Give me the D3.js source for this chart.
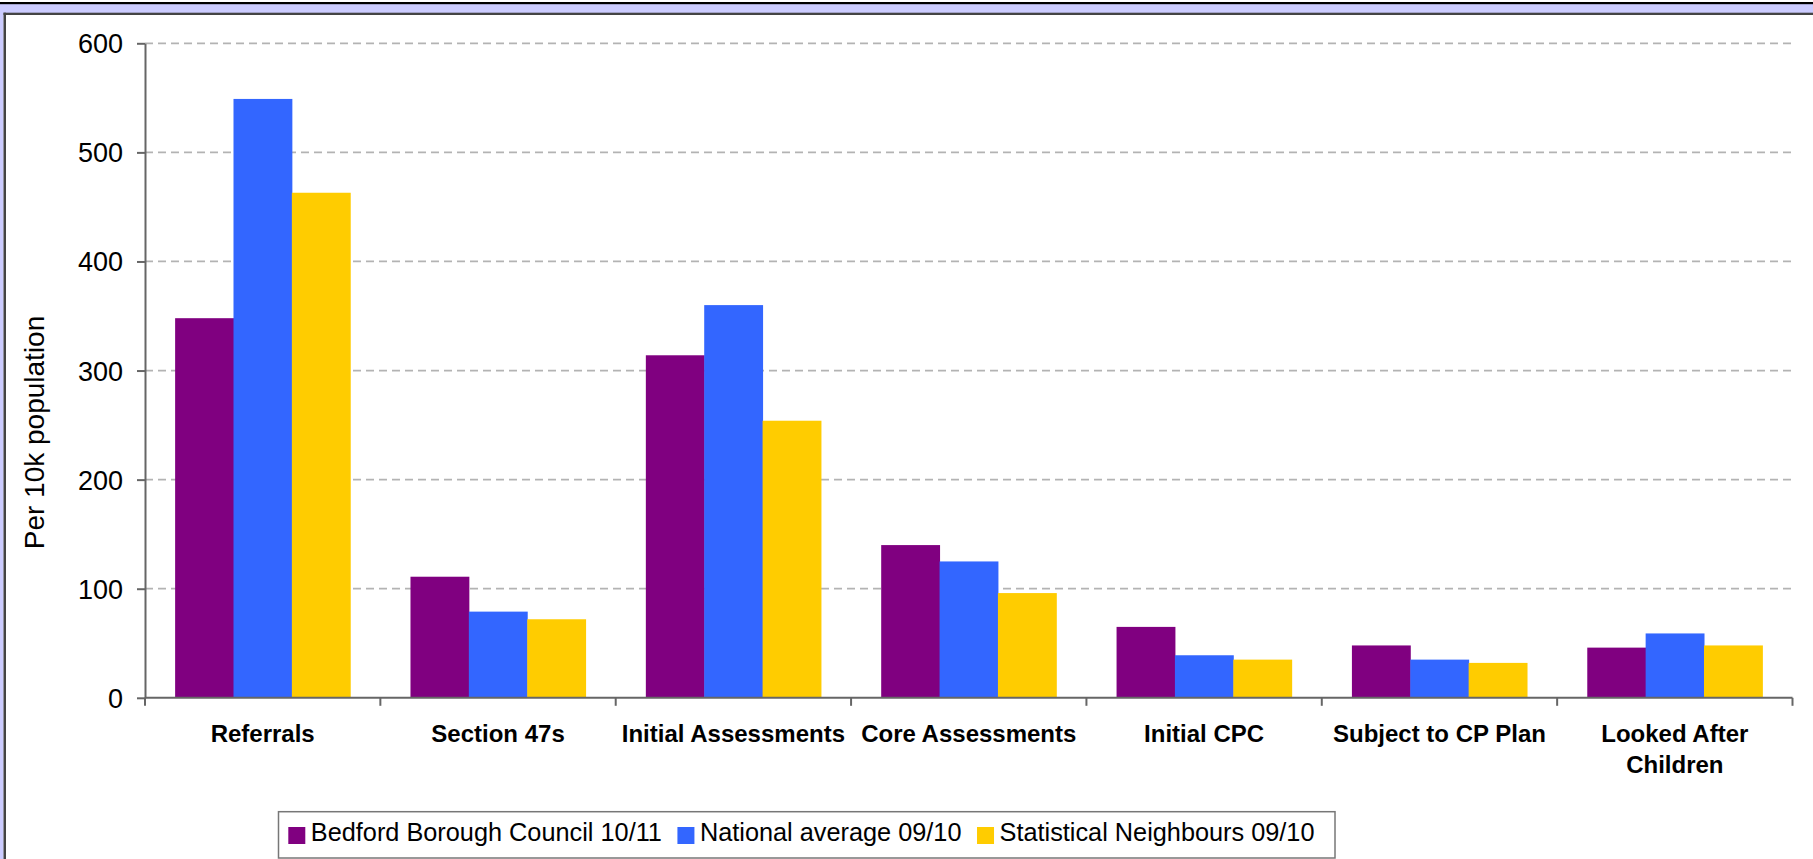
<!DOCTYPE html>
<html>
<head>
<meta charset="utf-8">
<script src="https://cdn.jsdelivr.net/npm/d3@7"></script>
<style>
  body { margin: 0; background: #fff; }
  text { font-family: "Liberation Sans", Arial, sans-serif; fill: #000; }
</style>
</head>
<body>
<div id="chart"></div>
<script>
// chart data
let categories = ["Referrals", "Section 47s", "Initial Assessments", "Core Assessments", "Initial CPC", "Subject to CP Plan", "Looked After Children"];
let seriesNames = ["Bedford Borough Council 10/11", "National average 09/10", "Statistical Neighbours 09/10"];
let seriesColors = ["#800080", "#3366FF", "#FFCC00"];
let bedford = [348, 111, 314, 140, 65, 48, 46];
let national = [549, 79, 360, 125, 39, 35, 59];
let neighbours = [463, 72, 254, 96, 35, 32, 48];
let yTicks = [0, 100, 200, 300, 400, 500, 600];
let yTitle = "Per 10k population";

let width = 1813, height = 859;
let margin = { top: 43.3, right: 20, bottom: 161.2, left: 145 };

let svg = d3.select("#chart").append("svg").attr("width", width).attr("height", height);

// frame borders (top and left edges of the original chart box)
svg.append("rect").attr("x", 0).attr("y", 4).attr("width", width).attr("height", 9).attr("fill", "#CCCCFF");
svg.append("rect").attr("x", 0).attr("y", 4).attr("width", 3.5).attr("height", height).attr("fill", "#CCCCFF");
svg.append("rect").attr("x", 0).attr("y", 2).attr("width", width).attr("height", 2.2).attr("fill", "#000");
svg.append("rect").attr("x", 3.5).attr("y", 12.7).attr("width", width).attr("height", 2.3).attr("fill", "#444");
svg.append("rect").attr("x", 3.5).attr("y", 12.7).attr("width", 2.5).attr("height", height).attr("fill", "#444");

let plotRight = 1792.5;
let plotBottom = 697.8;

let xScale = d3.scaleBand().domain(categories).range([margin.left, plotRight]).padding(0);
let bw = xScale.bandwidth();
let xInner = d3.scaleBand().domain(seriesNames).range([(bw - bw * 0.744) / 2, (bw + bw * 0.744) / 2]).padding(0);
let yScale = d3.scaleLinear().domain([0, 600]).range([plotBottom, margin.top]);

// gridlines
svg.append("g")
  .selectAll("line")
  .data(yTicks.filter(d => d > 0))
  .enter()
  .append("line")
  .attr("x1", margin.left)
  .attr("x2", plotRight)
  .attr("y1", d => yScale(d))
  .attr("y2", d => yScale(d))
  .attr("stroke", "#b3b3b3")
  .attr("stroke-width", 1.8)
  .attr("stroke-dasharray", "8,5");

// bars
let seriesData = [bedford, national, neighbours];
let groups = svg.append("g")
  .selectAll("g")
  .data(categories)
  .enter()
  .append("g")
  .attr("transform", d => "translate(" + xScale(d) + ",0)");

groups.selectAll("rect")
  .data((c, i) => seriesNames.map((s, j) => ({ series: s, value: seriesData[j][i], color: seriesColors[j] })))
  .enter()
  .append("rect")
  .attr("x", d => xInner(d.series))
  .attr("width", xInner.bandwidth() + 0.5)
  .attr("y", d => yScale(d.value))
  .attr("height", d => plotBottom - yScale(d.value))
  .attr("fill", d => d.color);

// y axis
let yAxis = d3.axisLeft(yScale).tickValues(yTicks).tickSizeInner(8).tickSizeOuter(0).tickPadding(14);
let yg = svg.append("g").attr("transform", "translate(" + margin.left + ",0)").call(yAxis);
yg.select(".domain").attr("stroke", "#666").attr("stroke-width", 2);
yg.selectAll(".tick line").attr("stroke", "#666").attr("stroke-width", 2);
yg.selectAll(".tick text").style("font-size", "27px").attr("fill", "#000").attr("dy", "0.35em");

// x axis: ticks sit on category boundaries
let xg = svg.append("g");
xg.append("line")
  .attr("x1", margin.left).attr("x2", plotRight)
  .attr("y1", plotBottom).attr("y2", plotBottom)
  .attr("stroke", "#666").attr("stroke-width", 2);
xg.selectAll("line.xtick")
  .data(categories.concat(["end"]))
  .enter()
  .append("line")
  .attr("class", "xtick")
  .attr("x1", (d, i) => i < categories.length ? xScale(d) : plotRight)
  .attr("x2", (d, i) => i < categories.length ? xScale(d) : plotRight)
  .attr("y1", plotBottom)
  .attr("y2", plotBottom + 8)
  .attr("stroke", "#666").attr("stroke-width", 2);

let labels = xg.selectAll("text.cat")
  .data(categories)
  .enter()
  .append("text")
  .attr("class", "cat")
  .attr("x", d => xScale(d) + bw / 2)
  .attr("y", 741.5)
  .attr("text-anchor", "middle")
  .style("font-size", "24px")
  .style("font-weight", "bold");

// wrap long labels into lines
labels.each(function (d) {
  let el = d3.select(this);
  let words = d.split(" ");
  let line = [];
  let tspan = el.append("tspan").attr("x", xScale(d) + bw / 2).attr("dy", 0);
  words.forEach(w => {
    line.push(w);
    tspan.text(line.join(" "));
    if (tspan.node().getComputedTextLength() > bw - 6 && line.length > 1) {
      line.pop();
      tspan.text(line.join(" "));
      line = [w];
      tspan = el.append("tspan").attr("x", xScale(d) + bw / 2).attr("dy", 31.6).text(w);
    }
  });
});

// y axis title
svg.append("text")
  .attr("transform", "translate(43.5,432.5) rotate(-90)")
  .attr("text-anchor", "middle")
  .style("font-size", "28px")
  .text(yTitle);

// legend
let legend = svg.append("g");
legend.append("rect")
  .attr("x", 278.5).attr("y", 811.7)
  .attr("width", 1056.5).attr("height", 46.3)
  .attr("fill", "#fff").attr("stroke", "#777").attr("stroke-width", 1.5);

let lx = 288.3;
seriesNames.forEach((name, i) => {
  legend.append("rect")
    .attr("x", lx).attr("y", 827)
    .attr("width", 17).attr("height", 17)
    .attr("fill", seriesColors[i]);
  let t = legend.append("text")
    .attr("x", lx + 22.5).attr("y", 841)
    .style("font-size", "25.3px")
    .text(name);
  lx = lx + 22.5 + t.node().getComputedTextLength() + 15.5;
});
</script>
</body>
</html>
